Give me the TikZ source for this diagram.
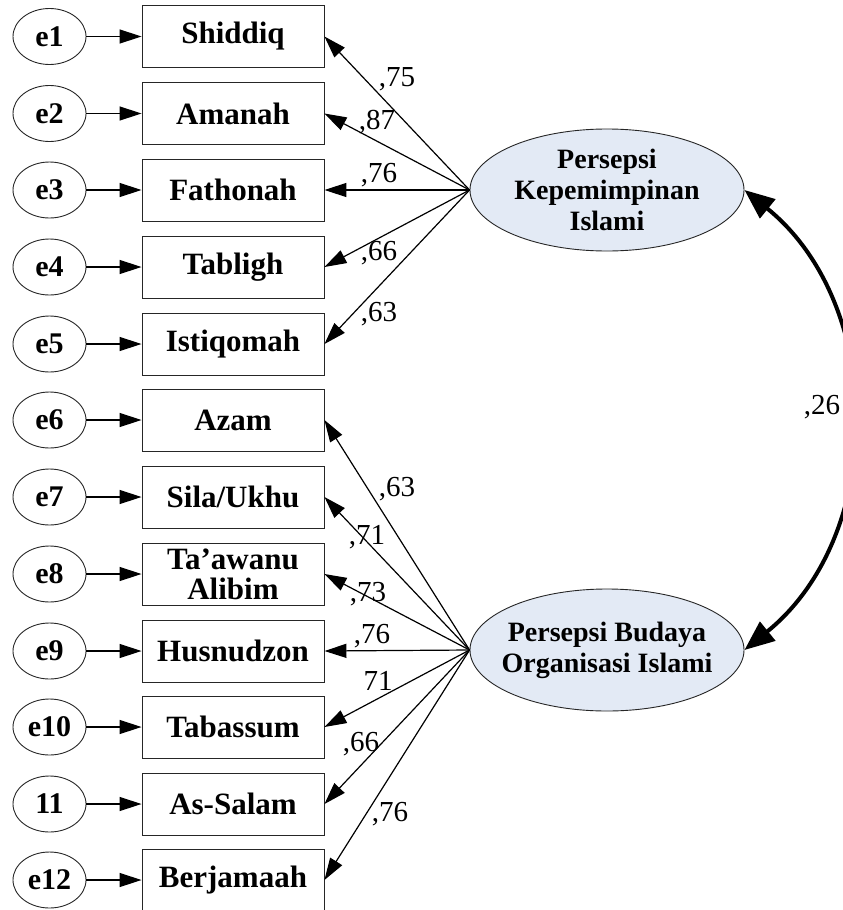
\documentclass[tikz,border=0pt]{standalone}
\usepackage{fontspec}
\setmainfont{Liberation Serif}
\usetikzlibrary{arrows.meta,shapes.geometric}
\definecolor{latentfill}{RGB}{227,234,245}
\begin{document}
\begin{tikzpicture}[x=1pt,y=-1pt,
  obs/.style={draw=black!85,line width=0.9pt,minimum width=182pt,minimum height=62pt,
    inner sep=0pt,align=center,font=\fontsize{31}{30}\selectfont\bfseries},
  err/.style={ellipse,draw=black!85,line width=0.9pt,minimum width=73pt,minimum height=56pt,
    inner sep=0pt,font=\fontsize{30}{30}\selectfont\bfseries},
  lat/.style={ellipse,draw=black!85,fill=latentfill,line width=0.9pt,minimum width=274pt,
    minimum height=122pt,inner sep=0pt},
  lattext/.style={inner sep=0pt,align=center,font=\fontsize{28}{31}\selectfont\bfseries},
  load/.style={line width=1.2pt,-{Triangle[length=22pt,width=14pt]}},
  cov/.style={line width=4pt,{Triangle[length=30pt,width=24pt]}-{Triangle[length=30pt,width=24pt]}},
  coef/.style={inner sep=0pt,font=\fontsize{29}{29}\selectfont}
]
\useasboundingbox (0,0) rectangle (843,910);
\clip (0,0) rectangle (843,910);

% observed indicators
\node[obs] (o1)  at (233,36.5)  {Shiddiq};
\node[obs] (o2)  at (233,113.5) {Amanah};
\node[obs] (o3)  at (233,190)   {Fathonah};
\node[obs] (o4)  at (233,267)   {Tabligh};
\node[obs] (o5)  at (233,344)   {Istiqomah};
\node[obs] (o6)  at (233,420)   {Azam};
\node[obs] (o7)  at (233,497)   {Sila/Ukhu};
\node[obs] (o8)  at (233,574)   {Ta’awanu\\Alibim};
\node[obs] (o9)  at (233,651)   {Husnudzon};
\node[obs] (o10) at (233,727)   {Tabassum};
\node[obs] (o11) at (233,804)   {As-Salam};
\node[obs] (o12) at (233,880)   {Berjamaah};

% error terms
\node[err] (e1)  at (49.5,36.5)  {e1};
\node[err] (e2)  at (49.5,113.5) {e2};
\node[err] (e3)  at (49.5,190)   {e3};
\node[err] (e4)  at (49.5,267)   {e4};
\node[err] (e5)  at (49.5,344)   {e5};
\node[err] (e6)  at (49.5,420)   {e6};
\node[err] (e7)  at (49.5,497)   {e7};
\node[err] (e8)  at (49.5,574)   {e8};
\node[err] (e9)  at (49.5,651)   {e9};
\node[err] (e10) at (49.5,727)   {e10};
\node[err] (e11) at (49.5,804)   {11};
\node[err] (e12) at (49.5,880)   {e12};

\foreach \i in {1,...,12} \draw[load] (e\i) -- (o\i);

% latent constructs (outline and caption set separately so the size stays fixed)
\node[lat] (L1) at (607,190) {};
\node[lattext] (L1t) at (L1) {Persepsi\\Kepemimpinan\\Islami};
\node[lat] (L2) at (607,650) {};
\node[lattext] (L2t) at (L2) {Persepsi Budaya\\Organisasi Islami};

% loadings
\foreach \i in {1,...,5} \draw[load] (L1.west) -- (o\i.east);
\foreach \i in {6,...,12} \draw[load] (L2.west) -- (o\i.east);

\node[coef] (c1)  at (397,79)  {,75};
\node[coef] (c2)  at (377,122) {,87};
\node[coef] (c3)  at (379,175) {,76};
\node[coef] (c4)  at (379,253) {,66};
\node[coef] (c5)  at (379,314) {,63};
\node[coef] (c6)  at (397,489) {,63};
\node[coef] (c7)  at (367,537) {,71};
\node[coef] (c8)  at (368,594) {,73};
\node[coef] (c9)  at (372,636) {,76};
\node[coef] (c10) at (378,681) {71};
\node[coef] (c11) at (361,744) {,66};
\node[coef] (c12) at (390,814) {,76};

% correlation between the constructs
\draw[cov] (L1.east) .. controls +(142,115) and +(142,-115) .. (L2.east);
\node[coef,fill=white,inner sep=3pt] (r) at (822,407) {,26};
\end{tikzpicture}
\end{document}
